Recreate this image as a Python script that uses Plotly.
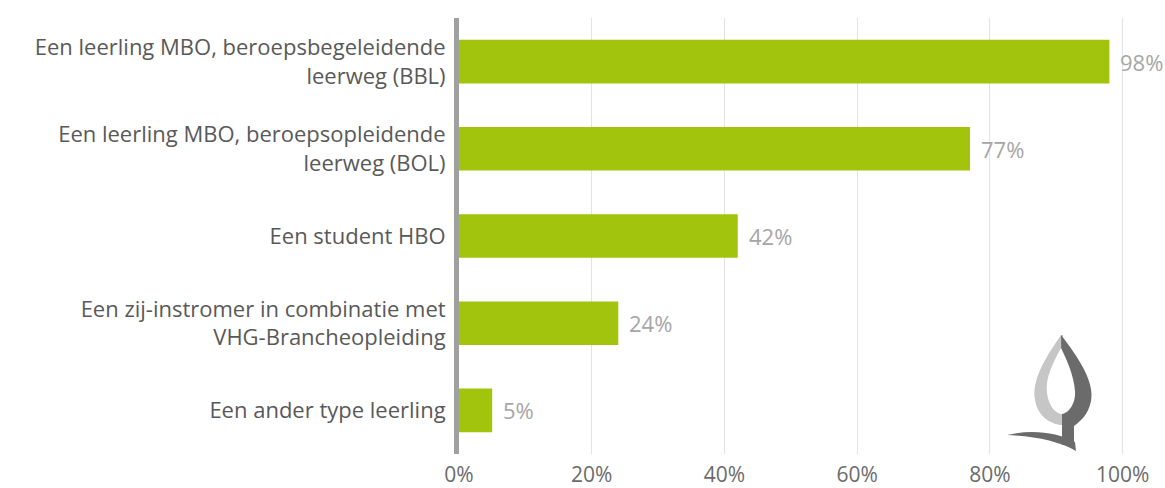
import plotly.graph_objects as go

categories = [
    "Een leerling MBO, beroepsbegeleidende<br>leerweg (BBL)",
    "Een leerling MBO, beroepsopleidende<br>leerweg (BOL)",
    "Een student HBO",
    "Een zij-instromer in combinatie met<br>VHG-Brancheopleiding",
    "Een ander type leerling",
]
values = [98, 77, 42, 24, 5]
tick_vals = [0, 20, 40, 60, 80, 100]
tick_text = ["0%", "20%", "40%", "60%", "80%", "100%"]

W, H = 1165, 488
ML, MR, MT, MB = 459, 41, 18, 34
PW, PH = W - ML - MR, H - MT - MB


def px(x):
    return (x - ML) / PW


def py(y):
    return (H - MB - y) / PH


def path(cmds):
    out = []
    for c in cmds:
        if isinstance(c, str):
            out.append(c)
        else:
            out.append(f"{px(c[0]):.4f},{py(c[1]):.4f}")
    return " ".join(out)


fig = go.Figure(
    go.Bar(
        y=categories,
        x=values,
        orientation="h",
        marker=dict(color="#a2c40c", line=dict(width=0)),
        width=0.5,
        hoverinfo="skip",
    )
)

for c, v in zip(categories, values):
    fig.add_annotation(
        x=v, y=c, text=f"{v}%", showarrow=False, xanchor="left", xshift=9,
        font=dict(family="Open Sans", size=22, color="#a6a6a6"),
    )

# decorative logo
light = path(["M", (1061, 335), "C", (1049, 353), (1031, 378), (1035, 400),
              "C", (1038, 418), (1053, 425), (1063, 425), "L", (1063, 335), "Z"])
dark = path(["M", (1061, 335), "C", (1079, 358), (1095, 383), (1091, 401),
             "C", (1088, 416), (1079, 422), (1074, 426), "L", (1074, 445),
             "L", (1062, 445), "L", (1062, 418), "Z"])
white = path(["M", (1061, 348), "C", (1053, 363), (1045, 378), (1047, 393),
              "C", (1049, 408), (1057, 414), (1062, 414),
              "C", (1069, 413), (1076, 403), (1075, 391),
              "C", (1074, 376), (1067, 360), (1061, 348), "Z"])
base = path(["M", (1007, 435), "C", (1031, 429), (1057, 432), (1075, 442),
             "L", (1076, 451), "C", (1059, 441), (1034, 436), (1007, 435), "Z"])
for p, col in [(light, "#c6c6c6"), (dark, "#6b6b6b"), (white, "#ffffff"), (base, "#6b6b6b")]:
    fig.add_shape(type="path", path=p, xref="paper", yref="paper",
                  fillcolor=col, line=dict(width=0), layer="above")

fig.update_layout(
    width=W, height=H,
    margin=dict(l=ML, r=MR, t=MT, b=MB, pad=0, autoexpand=False),
    paper_bgcolor="white", plot_bgcolor="white",
    showlegend=False,
    bargap=0.5,
    font=dict(family="Open Sans", color="#595959"),
    xaxis=dict(
        range=[0, 100.2], tickvals=tick_vals, ticktext=tick_text,
        showgrid=True, gridcolor="#e3e3e3", gridwidth=1,
        zeroline=False, showline=False, automargin=False,
        ticks="outside", ticklen=2, tickcolor="rgba(0,0,0,0)",
        tickfont=dict(family="Open Sans", size=21, color="#6b6b6b"),
        fixedrange=True,
    ),
    yaxis=dict(
        autorange="reversed", automargin=False,
        showline=True, linecolor="#a0a0a0", linewidth=5,
        showgrid=False, zeroline=False,
        ticks="outside", ticklen=4, tickcolor="rgba(0,0,0,0)",
        tickfont=dict(family="Open Sans", size=22, color="#595959"),
        fixedrange=True,
    ),
)

fig.write_html(
    "out.html",
    config={"displayModeBar": False},
    post_script="document.body.style.margin='0';document.body.style.overflow='hidden';",
)
